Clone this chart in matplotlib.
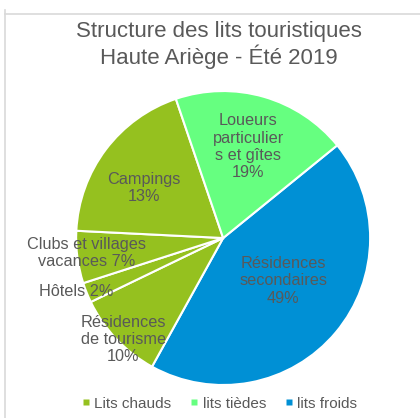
import matplotlib
matplotlib.use("Agg")
import matplotlib.pyplot as plt
from matplotlib.lines import Line2D

plt.rcParams['font.family'] = ['Liberation Sans', 'DejaVu Sans']

# parts (clockwise, starting from the Loueurs / Résidences secondaires border)
categories = ["Résidences\nsecondaires", "Résidences\nde tourisme", "Hôtels", "Clubs et villages\nvacances", "Campings", "Loueurs\nparticulier\ns et gîtes"]
slice_sizes = [43.9, 9.8, 2.2, 5.75, 19.0, 19.35]
labels_pct = ["49%", "10%", "2%", "7%", "13%", "19%"]
groups = ["lits froids", "Lits chauds", "Lits chauds", "Lits chauds", "Lits chauds", "lits tièdes"]

legend_names = ["Lits chauds", "lits tièdes", "lits froids"]
group_colors = {"Lits chauds": "#95C11F", "lits tièdes": "#66FF80", "lits froids": "#0090D5"}

fig = plt.figure(figsize=(4.2, 4.18), dpi=100)
ax = fig.add_axes([0.1813, 0.0789, 0.7, 0.7033])  # square in pixels

cols = [group_colors[g] for g in groups]
wedges, _ = ax.pie(slice_sizes, colors=cols, startangle=39.1, counterclock=False,
                   wedgeprops=dict(edgecolor="white", linewidth=1.5))
ax.set_xlim(-1, 1)
ax.set_ylim(-1, 1)
ax.set_aspect("equal")

txt = "#595959"
# label positions (data units, radius = 1)
label_pos = [(0.41, -0.29), (-0.68, -0.69), (-1.00, -0.365), (-0.93, -0.10), (-0.54, 0.34), (0.17, 0.62)]
for name, pct, (x, y) in zip(categories, labels_pct, label_pos):
    if name == "Hôtels" or name.startswith("Clubs"):
        s = name + " " + pct
    else:
        s = name + "\n" + pct
    ax.text(x, y, s, ha="center", va="center", fontsize=11.7, color=txt,
            linespacing=1.2, clip_on=False)

fig.text(0.522, 0.892, "Structure des lits touristiques\nHaute Ariège - Été 2019",
         ha="center", va="center", fontsize=16, color=txt, linespacing=1.1)

handles = [Line2D([], [], marker="s", linestyle="", markersize=5,
                  markerfacecolor=group_colors[n], markeredgecolor="none") for n in legend_names]
fig.legend(handles, legend_names, loc="center", bbox_to_anchor=(0.523, 0.034), ncol=3,
           frameon=False, fontsize=11, labelcolor=txt, handlelength=0.5,
           handletextpad=0.3, columnspacing=1.25)

# chart frame (top and left edges visible)
fig.add_artist(Line2D([4.5 / 420, 1.0], [1 - 13.5 / 418] * 2, color="#D9D9D9", lw=1.2))
fig.add_artist(Line2D([4.5 / 420] * 2, [0, 1 - 10 / 418], color="#D9D9D9", lw=1.2))

fig.savefig("out.png", dpi=100)
